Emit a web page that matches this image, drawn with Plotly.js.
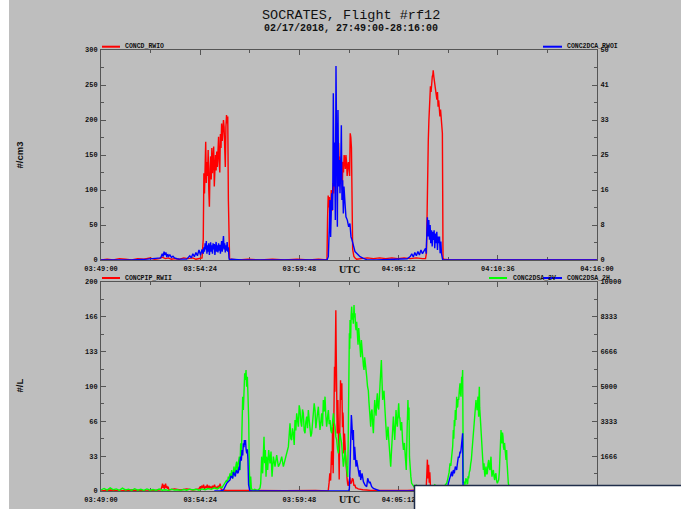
<!DOCTYPE html>
<html><head><meta charset="utf-8">
<script src="https://cdn.plot.ly/plotly-3.0.1.min.js"></script>
<style>html,body{margin:0;padding:0;background:#fff;}#chart{width:681px;height:509px;}</style>
</head><body><div id="chart"></div>
<script>
// ---- tick labels (time axis in seconds after 03:49:00 UTC) ----
const TIME_TICKS = [0, 324, 648, 972, 1296, 1620];
const TIME_LABELS = ['03:49:00','03:54:24','03:59:48','04:05:12','04:10:36','04:16:00'];
const TIME_MINOR = [162, 486, 810, 1134, 1458];
const TOP_LEFT_LABELS = ['0','50','100','150','200','250','300'];
const TOP_RIGHT_LABELS = ['0','8','16','25','33','41','50'];
const BOT_LEFT_LABELS = ['0','33','66','100','133','166','200'];
const BOT_RIGHT_LABELS = ['0','1666','3333','5000','6666','8333','10000'];

// ---- top panel: CONCD_RWIO (#/cm3, left) ----
const concdT = [0,20,40,60,80,100,120,140,160,175,190,200,210,220,230,240,255,270,285,300,310,320,330,
 334,336,338,340,342,344,346,348,350,352,354,356,358,360,362,364,366,368,370,372,374,376,378,380,382,384,386,388,390,392,394,396,398,400,402,404,406,408,410,412,414,416,418,420,
 425,450,480,520,560,600,640,680,710,730,
 738,740,742,744,746,748,750,752,754,756,758,760,762,764,766,768,770,772,774,776,778,780,782,784,786,788,790,792,794,796,798,800,802,804,806,808,810,812,814,816,818,820,822,824,826,830,835,
 850,870,890,910,930,950,970,990,1010,1030,1050,
 1060,1063,1065,1067,1069,1071,1072,1074,1076,1078,1080,1082,1084,1085,1087,1089,1091,1093,1095,1097,1099,1101,1103,1105,1107,1109,1111,1113,1115,1116,1117,1120,1140,1300,1620];
const concdV = [0,1,0,2,1,0,2,1,3,1,2,4,2,3,1,2,1,3,2,3,1,2,3,
 30,124,95,150,169,110,140,120,157,100,76,130,148,115,160,124,140,162,105,135,150,128,155,133,150,176,140,125,180,160,195,170,185,200,190,150,133,190,207,195,205,86,5,0,
 1,0,1,0,1,0,1,0,1,0,
 0,60,92,75,90,40,85,100,70,105,110,95,124,130,110,150,140,162,155,167,130,148,120,145,140,100,140,125,150,145,130,150,140,120,135,140,130,120,181,175,160,30,15,10,5,3,1,
 2,3,2,3,2,3,2,3,2,3,2,
 2,10,80,140,171,200,219,235,248,240,257,262,265,271,262,255,252,245,238,229,240,219,228,210,205,215,200,193,181,100,3,1,0,0,0];

// ---- top panel: CONC2DCA_RWOI (right axis) ----
const conc2dcaT = [0,100,150,180,195,200,203,206,209,212,215,218,221,225,230,235,240,248,255,280,290,295,300,305,310,315,320,325,330,
 334,336,338,340,342,344,346,348,350,352,354,356,358,360,362,364,366,368,370,372,374,376,378,380,382,384,386,388,390,392,394,396,398,400,402,404,406,408,410,412,414,416,418,420,
 425,440,460,738,
 742.5,745.8,748,750,753.5,756.7,758.8,761,763,765.4,767.5,769.7,772,774,776.3,778.5,780.6,782.8,785,787,789.3,791.5,793.6,797,800,804.5,809,813,816.5,819.8,824,829.6,835,846,857,867.6,
 900,990,1000,1010,1015,1020,1025,1030,1035,1040,1045,1050,1055,1060,1062,
 1064,1066,1068.5,1070.7,1072.9,1075,1077,1079.5,1081.7,1083.8,1085.6,1088,1090,1092.4,1094.6,1096.8,1099,1101,1103,1105.6,1107.7,1110,1112,1114,1116,1120,1620];
const conc2dcaV = [0,0,0.2,0.3,0.5,1.5,0.8,2,1.2,1.8,0.7,1.4,0.9,1.2,0.6,0.9,0.5,0.3,0.2,0.2,1,0.5,1.5,0.8,1.8,1,2.4,1.2,2.5,
 1.5,3,2,4,2.5,4.5,1.5,3.5,2,4,1.2,3,4.2,2,3.5,1.5,4,2.5,3.8,1.2,3,4.3,2,3.5,1.8,4,2.2,3.6,1.5,3,4.5,2,3.2,5.7,2.5,4,1.8,3.5,2.2,4.3,2,3,0.5,0,
 0.2,0.1,0,0,
 0.8,7.9,14.3,5.5,15.9,11.9,39.7,17.5,28,9.5,46.2,28,7.9,35.7,17.5,23.8,15.9,21.4,32.1,14.3,19,11.1,17.5,13.5,10.3,9.5,7.9,8.7,5.5,4.8,3.2,2,1.6,0.8,0.4,0.1,
 0,0.2,0.3,0.8,1.5,0.7,1.8,1,2,1.2,2.4,1.5,2.2,2.8,1.5,
 6.3,10.2,5.6,9.5,4.8,8.3,4,7.1,3.2,6.7,4.8,7.1,2.8,6.3,4,6.7,2.4,5.6,4,5.6,1.6,4.4,1.6,0.8,0,0,0];

// ---- bottom panel: CONCPIP_RWII (#/L, left) ----
const concpipT = [0,30,60,100,150,195,199,201,203,205,207,209,211,213,215,217,219,222,240,260,280,300,320,323,326,329,332,335,338,341,344,347,350,353,356,359,362,365,368,371,374,377,380,383,386,389,392,396,410,450,500,600,700,738,
 742,745,747.4,750,752.9,755,756.2,758.3,760.5,762.7,764,764.9,766,767,768,769.2,770.3,771.4,772.5,773.6,774.7,775.8,777,778,779,780,781,782.3,783.4,784.5,785.5,786.6,787.7,788.8,790,791,792,793.2,794.3,795.4,796.5,797.5,798.6,799.7,800.8,801.9,803,804,805.5,807.3,810,812.8,815,818,821,823.7,826,829,832,834.6,840,845.5,855,867,
 880,1000,1040,1050,1053,1058,1062,1064,1066,1068,1070,1072,1074,1076,1078,1082,1086,1090,1095,1100,1110,1620];
const concpipV = [0,1,0,1,0,1,4,7,3,6,2,5,7,3,5,2,4,1,2,1,2,1,2,4,2,5,3,6,2,4,3,6,2,5,3,4,2,5,3,6,2,4,2,5,3,7,2,1,0.5,0.5,0.3,0.3,0.5,0.5,
 0,8,17,10,38,25,61,17,87,119,95,141,120,173,140,103,80,55,75,87,60,33,20,11,40,61,85,106,95,87,100,103,80,61,75,71,50,36,48,55,40,46,35,30,22,17,14,11,7,5,9,13,7,8,12,11,5,6,3,3,2,1.6,1.2,1,
 0.5,0.5,1,3,1,4,2,15,30,12,25,8,18,5,3,2,5,1,4,1,0,0];

// ---- bottom panel: CONC2DSA_2V (right axis) ----
const conc2dsa2vT = [0,10,20,30,40,50,60,70,80,90,100,110,120,130,140,150,160,170,180,190,200,210,220,230,240,250,260,270,280,290,300,310,320,330,340,350,360,370,380,390,395,399.6,
 405,408,410.5,413,416,418,421.4,424,426.8,430,432,434.4,436.5,438.8,441,443.2,445.3,447.5,449.7,451.9,454,456.2,458.4,460.6,462.8,465,467.1,469.3,471.5,473.7,475.8,478,480.2,482.4,484.5,486.7,488.9,491,494,497.6,502,508.5,514,519.4,521.6,
 524.8,528,530.3,532.4,534.6,536.8,539,541.2,544.4,547.7,552,555.3,558.6,563,568.4,573.8,579.3,584.7,590.2,595.6,601,606.5,612,
 617.3,620,622.8,625.5,628.2,631,633.7,636.4,639.1,641.8,644.6,647.3,650,652.7,655.4,658.2,660.9,663.6,666.3,669,671.8,674.5,677.2,680,682.7,685.4,688,690.8,693.6,696.3,699,701.7,704.5,707.2,709.9,712.6,715.3,718,720.8,723.5,726.2,729,731.7,734.4,737,739.8,742.6,745.3,748,750.7,753.5,756.2,759,761.7,764.4,767,769.8,772.5,775.2,778,780.7,783.4,786,788.8,791.6,794.3,797,799.7,802.5,805.7,807.5,
 809,810,811.2,812.3,813.4,814.5,815.5,817,818.8,820.4,822,824.2,826.4,828,829.7,831.3,833,835.1,837.3,839.5,841.7,843.9,846,848.2,850.4,852.6,854.7,857,859,861.2,863.4,865.6,867.8,870.5,873.2,875,876.5,878.7,880.9,883,885.2,887.4,889.6,891.8,894,896,898.3,900.5,902.6,904.8,907,909.2,911.4,913.6,915.7,917.9,920,922.2,924.4,926.6,928.8,931,933.1,935.3,937.5,939.7,941.9,944,946.2,948.4,950.6,952.8,955,957.1,959.3,961.5,963.6,965.8,968,970.2,972.3,974.5,
 976,979,982,985,988,991,994,997,1000,1002.5,1004.5,1006,1007.5,1010,1012,1014.6,1017,1020,
 1025,1030,1035,1040,1045,1050,1060,1070,1080,1090,1100,1110,1120,1125,
 1129,1131.5,1134.4,1137,1139.9,1142.5,1145.3,1148.6,1150.7,1152.3,1154,1155.5,1157.3,1159.5,1161.6,1163.2,1164.9,1166.5,1168.2,1170.3,1172.5,1174,1175.8,1177,1178,1179.6,1181.2,1182.3,1183.4,1186,1188.9,1191.5,1194.3,1196,1197.6,1199,1200.8,1203,1205.2,1207.4,1209.6,1211.7,1213.9,1216,1218.3,1220,1221.5,1223,1224.8,1226,1227,1228,1229.2,1230.3,1231.3,1232.4,1233.5,1234.6,1235.7,1236.8,1237.9,1239,1240,1241.7,1243.3,1245,1246.6,1247.7,1248.8,1250,1251,1252.6,1254.2,1256,1257.5,1259.6,1261.8,1264,1266.2,1268.4,1270.5,1272,1273.8,1275.4,1277,1279,1281.4,1283.6,1285.8,1288,1290,1292,1294.5,1296.6,1298.8,1301,1303.2,1305,1306.5,1308,1309.7,1311.3,1313,1314.6,1316.3,1318,1319.5,1321,1322.8,1324,1325,1326,1327.2,1329,1330.4,1333,1336,1400,1500,1620];
const conc2dsa2vV = [50,120,40,150,60,100,30,140,50,90,30,110,40,80,30,100,40,70,30,90,40,60,30,80,40,60,30,70,40,90,50,80,40,100,60,120,80,150,100,200,150,250,
 367,450,526,400,686,560,845,700,1005,606,900,1164,800,925,1250,1404,1000,1164,1500,1643,1005,2281,1643,3397,4514,3876,4992,5630,5311,5790,4992,5471,4514,3397,1005,48,686,128,60,30,80,40,48,150,367,
 1643,845,2121,2600,1324,1962,686,1643,1005,1962,1324,1883,686,1643,1164,1723,1164,1324,1643,1164,1484,1883,2121,
 3237,2500,2440,3000,2760,2200,3397,2900,3716,3200,3078,4100,3876,3300,3078,3900,3716,2900,2760,3300,3557,3000,3876,3400,3078,2600,2760,3300,3557,4200,3876,3000,3397,3700,4035,3400,2919,3300,3716,3100,4354,3800,4514,3600,3078,3500,3876,3200,3397,2900,2760,3300,3716,3300,3078,2600,2440,2000,1802,2300,2760,2500,2281,1700,1165,1500,1962,1400,1005,670,2500,
 5152,4000,7544,6800,8182,7600,7300,8400,8820,8200,8500,8000,8900,8300,8501,7900,7700,8100,7544,7000,7800,7300,6747,6400,7225,6600,6300,6000,5790,6400,6100,5500,5471,5000,4800,4300,3876,3400,3078,3800,3900,3200,2760,3600,4354,3900,3600,4300,4674,4000,3900,4500,5152,5600,6269,5200,4354,4600,4800,4100,3716,3000,2440,2900,3078,2500,1962,1600,1165,1800,2440,2900,3557,3000,2440,3100,3876,3300,3078,3700,4195,3500,
 3500,2900,3300,2400,1962,2300,1483,1005,3000,4354,3400,4000,1643,900,686,367,300,240,
 150,300,100,250,80,200,100,250,120,300,150,250,180,300,
 367,500,686,900,1324,1200,1643,2121,2919,2500,3397,3100,3876,3397,4514,4000,4035,4400,4354,4800,5152,4700,4514,5000,5471,5200,5790,4000,367,450,300,600,526,350,367,700,606,900,1005,1300,1484,1900,2281,2700,3237,3600,3876,4200,4354,4000,4195,3900,3876,4300,4514,4000,3557,4500,4992,4000,3397,3600,3237,2800,2281,2000,1803,1300,1005,1200,1324,900,686,1000,1164,800,845,1300,1484,1100,1005,1400,1643,1000,686,900,1005,700,526,800,845,500,367,450,526,900,1643,2300,2919,2500,2281,2800,2600,2100,1962,2300,2121,1700,1484,1800,1962,1400,1005,600,367,200,100,80,50,30];

// ---- bottom panel: CONC2DSA_2H (right axis) ----
const conc2dsa2hT = [370,390,400,405,410.5,416,421.4,424,426.8,430,432.4,434.4,437,438.8,441,443.2,446,448.6,451,452.5,454,456.2,458.4,460.6,462.8,465,467,468.2,470,472,474,476,478,480,482,484.5,486,809,
 811.2,813.4,815.5,817.7,818.8,821,822,824.2,826.4,828.6,830.8,833,835.1,837.3,840.6,843.9,846,848.2,852.6,857,862.4,867.8,871,873.2,876.5,878.7,884,889.6,900.5,911,
 1129,1132,1134.4,1137,1139.9,1142,1145.3,1147,1148.6,1150.7,1152.5,1154,1155.5,1157.3,1159.5,1161.6,1163.5,1164,1167.2,1170,1172.5,1174,1175.8,1178,1180.1,1181.2,1182.3,1183.4,1620];
const conc2dsa2hV = [0,0,50,200,367,450,526,700,686,600,900,845,750,700,950,1005,850,900,1164,1000,1400,1643,1450,1962,1700,2281,2100,2441,2200,2441,1962,1800,2000,1500,300,20,0,0,
 128,1165,2440,3637,3397,2760,2440,2919,1483,2120,1802,1165,1483,1324,1005,686,1005,526,845,447,287,207,606,526,367,447,207,128,48,0,
 0,100,367,500,686,800,925,700,765,1005,900,845,1000,1164,1100,1005,1250,1404,1643,1600,1883,1800,1962,2281,2520,2760,400,0,0];

// ---------------- plot ----------------
const AX = '#555555';
const tickFont = {family: 'Liberation Mono, DejaVu Sans Mono, monospace', size: 7, color: '#111', weight: 'bold'};
const L = 101, R = 597, TOP = 50, BOT = 491, W = 681, H = 509;
const px = x => (x - L) / (R - L);
const py = y => (BOT - y) / (BOT - TOP);

function xAxis(anchor) {
  return {anchor: anchor, domain: [0, 1], range: [0, 1620], tickmode: 'array', tickvals: TIME_TICKS, ticktext: TIME_LABELS,
    ticks: 'inside', ticklen: 5, tickwidth: 1, tickcolor: AX, showline: true, linecolor: AX, linewidth: 1, mirror: 'ticks',
    showgrid: false, zeroline: false, tickfont: tickFont, layer: 'below traces', ticklabelstandoff: 2,
    minor: {tickmode: 'array', tickvals: TIME_MINOR, ticks: 'inside', ticklen: 3, tickcolor: AX, showgrid: false}};
}
function yAxis(opts) {
  const vals = opts.labels.map((_, i) => i * opts.max / 6);
  const minor = opts.labels.slice(1).map((_, i) => (i + 0.5) * opts.max / 6);
  const a = {range: [0, opts.max], tickmode: 'array', tickvals: vals, ticktext: opts.labels, ticks: 'inside', ticklen: 5,
    tickcolor: AX, showline: true, linecolor: AX, linewidth: 1, showgrid: false, zeroline: false, tickfont: tickFont,
    layer: 'below traces', ticklabelstandoff: 1,
    minor: {tickmode: 'array', tickvals: minor, ticks: 'inside', ticklen: 3, tickcolor: AX, showgrid: false}};
  return Object.assign(a, opts.extra);
}

const lw = 1.4;
const traces = [
  {x: concdT, y: concdV, xaxis: 'x', yaxis: 'y', mode: 'lines', line: {color: '#ff0000', width: lw}, name: 'CONCD_RWIO'},
  {x: conc2dcaT, y: conc2dcaV, xaxis: 'x', yaxis: 'y2', mode: 'lines', line: {color: '#0000ff', width: lw}, name: 'CONC2DCA_RWOI'},
  {x: concpipT, y: concpipV, xaxis: 'x2', yaxis: 'y3', mode: 'lines', line: {color: '#ff0000', width: lw}, name: 'CONCPIP_RWII'},
  {x: conc2dsa2vT, y: conc2dsa2vV, xaxis: 'x2', yaxis: 'y4', mode: 'lines', line: {color: '#00ff00', width: lw}, name: 'CONC2DSA_2V'},
  {x: conc2dsa2hT, y: conc2dsa2hV, xaxis: 'x2', yaxis: 'y4', mode: 'lines', line: {color: '#0000ff', width: lw}, name: 'CONC2DSA_2H'}
];

const legFont = {family: 'Liberation Mono, DejaVu Sans Mono, monospace', size: 6.5, color: '#111', weight: 'bold'};
function legLine(x0, x1, y, color) {
  return {type: 'line', xref: 'paper', yref: 'paper', x0: px(x0), x1: px(x1), y0: py(y), y1: py(y), line: {color: color, width: 2}};
}
function legText(x, y, text) {
  return {xref: 'paper', yref: 'paper', x: px(x), y: py(y), xanchor: 'left', yanchor: 'middle', text: text, showarrow: false, font: legFont};
}

const topDomain = [py(260), 1];
const botDomain = [0, py(282)];

const layout = {
  width: W, height: H, paper_bgcolor: '#bebebe', plot_bgcolor: '#bebebe', showlegend: false,
  margin: {l: L, r: W - R, t: TOP, b: H - BOT, pad: 0},
  xaxis: xAxis('y'),
  xaxis2: xAxis('y3'),
  yaxis: yAxis({labels: TOP_LEFT_LABELS, max: 300, extra: {domain: topDomain, anchor: 'x'}}),
  yaxis2: yAxis({labels: TOP_RIGHT_LABELS, max: 50, extra: {overlaying: 'y', side: 'right', anchor: 'x'}}),
  yaxis3: yAxis({labels: BOT_LEFT_LABELS, max: 200, extra: {domain: botDomain, anchor: 'x2'}}),
  yaxis4: yAxis({labels: BOT_RIGHT_LABELS, max: 10000, extra: {overlaying: 'y3', side: 'right', anchor: 'x2'}}),
  shapes: [
    legLine(102, 120, 46.7, '#ff0000'),
    legLine(543, 562, 46.7, '#0000ff'),
    legLine(102, 120, 278, '#ff0000'),
    legLine(489, 507, 278, '#00ff00'),
    {type: 'rect', xref: 'paper', yref: 'paper', x0: px(-5), x1: px(9), y0: py(520), y1: py(-10), fillcolor: '#ffffff', line: {width: 0}},
    {type: 'rect', xref: 'paper', yref: 'paper', x0: px(414.5), x1: px(700), y0: py(530), y1: py(485.5), fillcolor: '#ffffff', line: {color: '#1f2d4a', width: 1.5}}
  ],
  annotations: [
    {xref: 'paper', yref: 'paper', x: px(351), y: py(16), text: 'SOCRATES, Flight #rf12', showarrow: false, xanchor: 'center', yanchor: 'middle',
      font: {family: 'Liberation Mono, monospace', size: 13.5, color: '#111'}},
    {xref: 'paper', yref: 'paper', x: px(351), y: py(28), text: '02/17/2018, 27:49:00-28:16:00', showarrow: false, xanchor: 'center', yanchor: 'middle',
      font: {family: 'Liberation Mono, monospace', size: 10, color: '#111', weight: 'bold'}},
    {xref: 'paper', yref: 'paper', x: px(18.5), y: py(155), text: '#/cm3', textangle: -90, showarrow: false, xanchor: 'center', yanchor: 'middle',
      font: {family: 'Liberation Sans, sans-serif', size: 9.5, color: '#111', weight: 'bold'}},
    {xref: 'paper', yref: 'paper', x: px(18.5), y: py(386), text: '#/L', textangle: -90, showarrow: false, xanchor: 'center', yanchor: 'middle',
      font: {family: 'Liberation Sans, sans-serif', size: 9.5, color: '#111', weight: 'bold'}},
    {xref: 'paper', yref: 'paper', x: px(349), y: py(269.5), text: 'UTC', showarrow: false, xanchor: 'center', yanchor: 'middle',
      font: {family: 'Liberation Serif, serif', size: 10, color: '#111', weight: 'bold'}},
    {xref: 'paper', yref: 'paper', x: px(349), y: py(499), text: 'UTC', showarrow: false, xanchor: 'center', yanchor: 'middle',
      font: {family: 'Liberation Serif, serif', size: 10, color: '#111', weight: 'bold'}},
    legText(123, 46.7, 'CONCD_RWIO'),
    legText(565, 46.7, 'CONC2DCA_RWOI'),
    legText(123, 278, 'CONCPIP_RWII'),
    legText(511, 278, 'CONC2DSA_2V'),
    legText(565, 278, 'CONC2DSA_2H')
  ]
};
layout.shapes.push(legLine(543, 562, 278, '#0000ff'));

Plotly.newPlot('chart', traces, layout, {staticPlot: true, displayModeBar: false});
</script>
</body></html>
